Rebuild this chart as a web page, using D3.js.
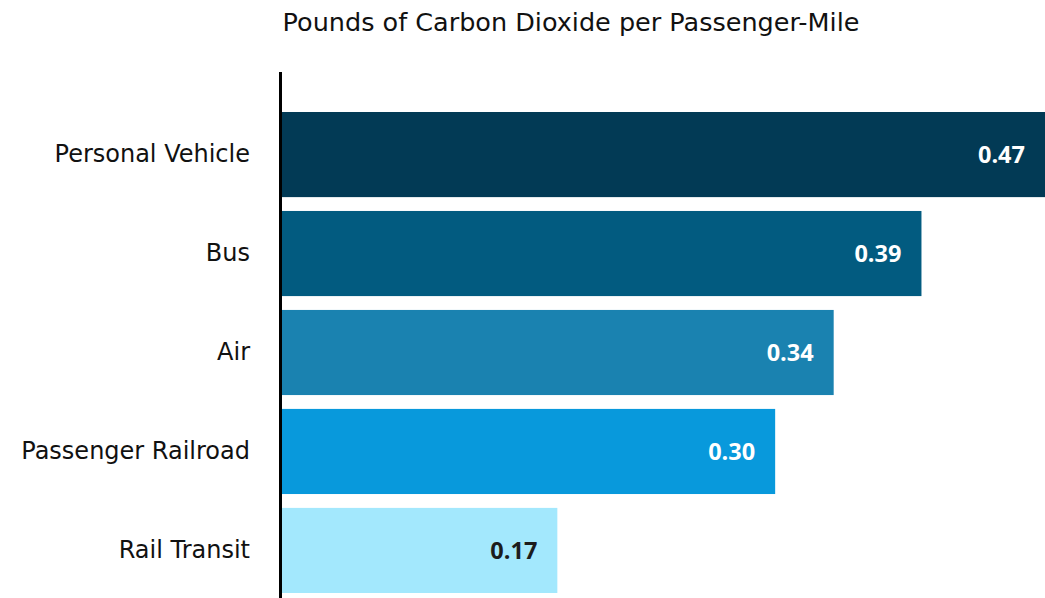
<!DOCTYPE html>
<html>
<head>
<meta charset="utf-8">
<script src="https://cdn.jsdelivr.net/npm/d3@7"></script>
<style>
  body { margin: 0; background: #fff; }
  text { font-family: 'DejaVu Sans', sans-serif; }
</style>
</head>
<body>
<div id="chart"></div>
<script>
const categories = ['Personal Vehicle', 'Bus', 'Air', 'Passenger Railroad', 'Rail Transit'];
const values = [0.47, 0.394, 0.34, 0.304, 0.17];
const barColors = ['#023a55', '#025b80', '#1a82b0', '#0899dc', '#a3e8fd'];
const labelColors = ['#ffffff', '#ffffff', '#ffffff', '#ffffff', '#1c1c1c'];

const width = 1045;
const height = 598;

const svg = d3.select('#chart')
  .append('svg')
  .attr('width', width)
  .attr('height', height);

// x runs from the axis line out to the right edge
const x = d3.scaleLinear()
  .domain([0, 0.47])
  .range([281, 1045]);

const y = d3.scaleBand()
  .domain(categories)
  .range([112, 593])
  .paddingInner(0.14)
  .paddingOuter(0);

// title
svg.append('text')
  .attr('x', 571)
  .attr('y', 31)
  .attr('text-anchor', 'middle')
  .attr('font-size', 25.5)
  .attr('fill', '#111')
  .text('Pounds of Carbon Dioxide per Passenger-Mile');

// bars
svg.selectAll('.bar')
  .data(values)
  .enter()
  .append('rect')
  .attr('class', 'bar')
  .attr('x', x(0))
  .attr('y', (d, i) => y(categories[i]))
  .attr('width', d => x(d) - x(0))
  .attr('height', y.bandwidth())
  .attr('fill', (d, i) => barColors[i]);

// value labels inside the bar ends
svg.selectAll('.val')
  .data(values)
  .enter()
  .append('text')
  .attr('class', 'val')
  .attr('x', d => x(d) - 20)
  .attr('y', (d, i) => y(categories[i]) + y.bandwidth() / 2)
  .attr('dy', '0.36em')
  .attr('text-anchor', 'end')
  .attr('font-size', 23.5)
  .attr('font-weight', 'bold')
  .attr('fill', (d, i) => labelColors[i])
  .style('font-family', "'Open Sans', sans-serif")
  .text(d => d.toFixed(2));

// y axis: categories on the left, thick black line
const yAxis = svg.append('g')
  .attr('transform', 'translate(281,0)')
  .call(d3.axisLeft(y).tickSize(0).tickPadding(31));

yAxis.select('.domain').remove();
yAxis.selectAll('text')
  .attr('font-size', 24)
  .attr('fill', '#111')
  .style('font-family', "'DejaVu Sans', sans-serif");

svg.append('line')
  .attr('x1', 280.5)
  .attr('x2', 280.5)
  .attr('y1', 72)
  .attr('y2', height)
  .attr('stroke', '#000')
  .attr('stroke-width', 3);
</script>
</body>
</html>
